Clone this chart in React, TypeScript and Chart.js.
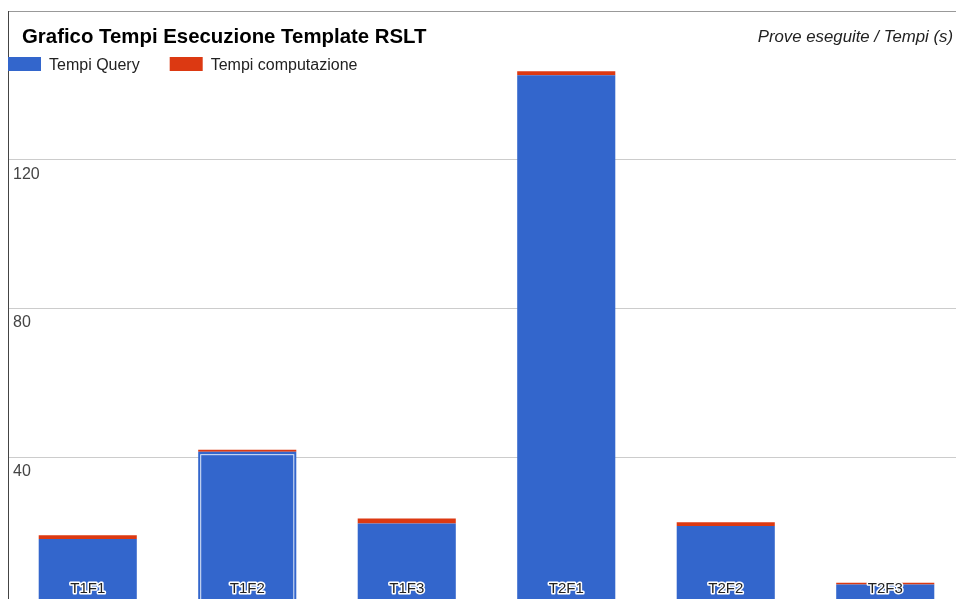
import React, { useEffect, useRef } from "react";
import { Chart, registerables } from "chart.js";

Chart.register(...registerables);

const categories = ["T1F1", "T1F2", "T1F3", "T2F1", "T2F2", "T2F3"];
const tempiQuery = [18.0, 41.5, 22.2, 142.7, 21.5, 5.8];
const tempiComputazione = [1.0, 0.5, 1.3, 1.1, 1.0, 0.45];
const yTickLabels = [40, 80, 120];
const seriesNames = ["Tempi Query", "Tempi computazione"];
const seriesColors = ["#3366cc", "#dc3912"];
const chartTitle = "Grafico Tempi Esecuzione Template RSLT";
const axisTitle = "Prove eseguite / Tempi (s)";
const highlightedIndex = 1;

const FONT = "'Liberation Sans', Arial, sans-serif";

const overlayPlugin = {
  id: "overlay",
  afterDatasetsDraw(chart: any) {
    const ctx = chart.ctx;
    const area = chart.chartArea;
    const xScale = chart.scales.x;

    // focus ring on the highlighted bar
    const bar = chart.getDatasetMeta(0).data[highlightedIndex];
    if (bar) {
      const p = bar.getProps(["x", "y", "base", "width"], true);
      const left = p.x - p.width / 2;
      ctx.save();
      ctx.strokeStyle = "rgba(255,255,255,0.85)";
      ctx.lineWidth = 1;
      ctx.strokeRect(left + 2.5, p.y + 3, p.width - 5, p.base - p.y - 6);
      ctx.restore();
    }

    // category labels inside bars
    ctx.save();
    ctx.font = `15px ${FONT}`;
    ctx.textAlign = "center";
    ctx.textBaseline = "middle";
    ctx.lineJoin = "round";
    ctx.lineWidth = 3;
    ctx.strokeStyle = "#ffffff";
    ctx.fillStyle = "#222222";
    chart.data.labels.forEach((lab: string, i: number) => {
      const px = xScale.getPixelForValue(i);
      const py = area.bottom - 17;
      ctx.strokeText(lab, px, py);
      ctx.fillText(lab, px, py);
    });
    ctx.restore();
  },
  afterDraw(chart: any) {
    const ctx = chart.ctx;
    const area = chart.chartArea;
    ctx.save();
    // title
    ctx.font = `bold 20.4px ${FONT}`;
    ctx.fillStyle = "#000000";
    ctx.textAlign = "left";
    ctx.textBaseline = "alphabetic";
    ctx.fillText(chartTitle, 22, 43);
    // axis title (top right)
    ctx.font = `italic 16.8px ${FONT}`;
    ctx.fillStyle = "#222222";
    ctx.textAlign = "right";
    ctx.fillText(axisTitle, 953, 42);
    // legend
    ctx.font = `16px ${FONT}`;
    ctx.textAlign = "left";
    let x = area.left;
    chart.data.datasets.forEach((ds: any) => {
      ctx.fillStyle = ds.backgroundColor;
      ctx.fillRect(x, 57, 33, 14);
      ctx.fillStyle = "#222222";
      ctx.fillText(ds.label, x + 41, 70);
      x += 41 + ctx.measureText(ds.label).width + 30;
    });
    ctx.restore();
  },
};

export default function App() {
  const canvasRef = useRef<HTMLCanvasElement | null>(null);

  useEffect(() => {
    document.body.style.margin = "0";
    if (!canvasRef.current) return;
    Chart.defaults.font.family = FONT;
    const chart = new Chart(canvasRef.current, {
      type: "bar",
      data: {
        labels: categories,
        datasets: [
          {
            label: seriesNames[0],
            data: tempiQuery,
            backgroundColor: seriesColors[0],
            borderWidth: 0,
            barPercentage: 0.615,
            categoryPercentage: 1,
          },
          {
            label: seriesNames[1],
            data: tempiComputazione,
            backgroundColor: seriesColors[1],
            borderWidth: 0,
            barPercentage: 0.615,
            categoryPercentage: 1,
          },
        ],
      },
      options: {
        responsive: false,
        devicePixelRatio: 1,
        animation: false,
        layout: { padding: { left: 3, top: 11, right: 0, bottom: 0 } },
        plugins: {
          legend: { display: false },
          title: { display: false },
          tooltip: { enabled: false },
        },
        scales: {
          x: {
            stacked: true,
            display: false,
          },
          y: {
            stacked: true,
            min: 0,
            max: 160,
            afterFit: (scale: any) => {
              scale.width = 5;
              scale.paddingTop = 0;
              scale.paddingBottom = 0;
            },
            ticks: {
              stepSize: 40,
              mirror: true,
              padding: 5,
              labelOffset: 14.5,
              color: "#444444",
              font: { size: 16, family: FONT },
              callback: (v: any) => (yTickLabels.includes(Number(v)) ? String(v) : ""),
            },
            grid: {
              drawTicks: false,
              lineWidth: 1,
              color: (c: any) => (c.tick && c.tick.value === 160 ? "#999999" : "#cccccc"),
            },
            border: { display: true, color: "#444444", width: 1 },
          },
        },
      },
      plugins: [overlayPlugin],
    });
    return () => chart.destroy();
  }, []);

  return (
    <div
      style={{
        position: "fixed",
        left: 0,
        top: 0,
        width: 956,
        height: 599,
        overflow: "hidden",
        background: "#ffffff",
      }}
    >
      <canvas ref={canvasRef} width={965} height={606} style={{ display: "block" }} />
    </div>
  );
}
